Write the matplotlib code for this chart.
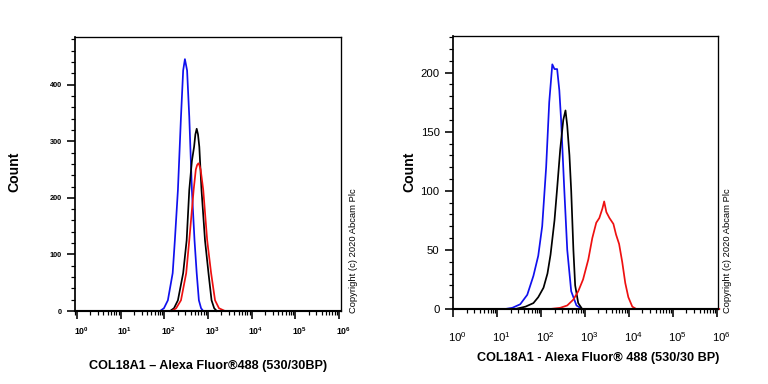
import matplotlib
matplotlib.use("Agg")
import matplotlib.pyplot as plt
import matplotlib.transforms as mtransforms
from matplotlib.ticker import LogLocator, MultipleLocator, FixedLocator, NullFormatter
import numpy as np

plt.rcParams['font.family'] = ['Liberation Sans', 'DejaVu Sans']
plt.rcParams['mathtext.fontset'] = 'custom'
plt.rcParams['mathtext.rm'] = 'Liberation Sans'
plt.rcParams['mathtext.bf'] = 'Liberation Sans:bold'

# ---- left panel: log10 position (decades) and count
left_blue_dec = [1.90, 1.99, 2.08, 2.19, 2.24, 2.31, 2.38, 2.43, 2.47, 2.52, 2.57, 2.63, 2.69, 2.74, 2.79, 2.84, 2.89]
left_blue_cnt = [0, 5, 19, 67, 125, 214, 343, 425, 445, 425, 343, 214, 125, 67, 19, 5, 0]

left_black_dec = [2.13, 2.22, 2.31, 2.43, 2.51, 2.57, 2.63, 2.68, 2.71, 2.74, 2.77, 2.80, 2.85, 2.93, 3.01, 3.08, 3.14, 3.20]
left_black_cnt = [0, 5, 19, 67, 125, 214, 265, 290, 312, 322, 312, 290, 214, 125, 67, 19, 5, 0]

left_red_dec = [2.17, 2.27, 2.38, 2.50, 2.57, 2.67, 2.72, 2.75, 2.78, 2.80, 2.83, 2.89, 2.98, 3.07, 3.16, 3.25, 3.39]
left_red_cnt = [0, 5, 19, 67, 125, 214, 250, 258, 261, 258, 250, 214, 125, 67, 19, 5, 0]

# ---- right panel
right_blue_dec = [1.18, 1.34, 1.52, 1.68, 1.82, 1.93, 2.02, 2.11, 2.18, 2.25, 2.30, 2.36, 2.41, 2.45, 2.52, 2.59, 2.68, 2.80, 2.93]
right_blue_cnt = [0, 1, 4, 12, 28, 45, 70, 120, 175, 207, 203, 203, 185, 160, 103, 50, 15, 3, 0]

right_black_dec = [1.41, 1.64, 1.82, 1.93, 2.05, 2.14, 2.21, 2.30, 2.36, 2.43, 2.50, 2.55, 2.59, 2.64, 2.68, 2.73, 2.77, 2.84, 2.93]
right_black_cnt = [0, 2, 5, 10, 18, 30, 46, 75, 102, 135, 160, 168, 155, 130, 100, 50, 20, 5, 0]

right_red_dec = [0.0, 2.20, 2.43, 2.59, 2.73, 2.84, 2.95, 3.07, 3.16, 3.25, 3.32, 3.39, 3.43, 3.48, 3.55, 3.64, 3.70, 3.77, 3.84, 3.91, 3.98, 4.07, 4.16, 6.05]
right_red_cnt = [0, 0, 1, 3, 8, 15, 25, 42, 60, 73, 77, 85, 91, 82, 77, 72, 63, 55, 40, 22, 10, 2, 0, 0]

decades = [0, 1, 2, 3, 4, 5, 6]
copyright_txt = "Copyright (c) 2020 Abcam Plc"

fig = plt.figure(figsize=(8, 4), dpi=96)
axL = fig.add_axes([0.0977, 0.190, 0.3464, 0.7135])
axR = fig.add_axes([0.5898, 0.1953, 0.3451, 0.711])


def style_axis(ax, bold, lab_size, ylab_size, xpad, ymajor, yminor):
    ax.set_xscale('log')
    ax.xaxis.set_major_locator(FixedLocator([10.0 ** d for d in decades]))
    ax.xaxis.set_minor_locator(LogLocator(base=10, subs=np.arange(2, 10)))
    ax.xaxis.set_minor_formatter(NullFormatter())
    if bold:
        labels = [r'$\mathbf{10^{%d}}$' % d for d in decades]
    else:
        labels = [r'$\mathrm{10^{%d}}$' % d for d in decades]
    ax.set_xticklabels(labels)
    ax.yaxis.set_major_locator(MultipleLocator(ymajor))
    ax.yaxis.set_minor_locator(MultipleLocator(yminor))
    ax.tick_params(which='major', direction='out', length=6, width=1.2)
    ax.tick_params(which='minor', direction='out', length=3, width=0.9)
    ax.tick_params(axis='x', which='major', labelsize=lab_size, pad=xpad)
    ax.tick_params(axis='y', which='major', labelsize=ylab_size, pad=4)
    # labels sit a little right of their ticks in the original
    shift = mtransforms.ScaledTranslation(4 / 96, 0, fig.dpi_scale_trans)
    for lab in ax.get_xticklabels():
        lab.set_transform(lab.get_transform() + shift)
    for lab in ax.get_yticklabels():
        lab.set_fontweight('bold' if bold else 'normal')
    for s in ax.spines.values():
        s.set_linewidth(1.0)
    ax.spines['bottom'].set_linewidth(1.6)
    ax.spines['left'].set_linewidth(1.3)


# left panel
axL.plot(10.0 ** np.array(left_blue_dec), left_blue_cnt, color='#1010ee', lw=1.3, clip_on=False)
axL.plot(10.0 ** np.array(left_black_dec), left_black_cnt, color='black', lw=1.3, clip_on=False)
axL.plot(10.0 ** np.array(left_red_dec), left_red_cnt, color='#ee1010', lw=1.3, clip_on=False)
axL.set_xlim(10 ** -0.046, 10 ** 6.046)
axL.set_ylim(0, 484)
style_axis(axL, True, 6.5, 5.5, 5, 100, 20)

# right panel
axR.plot(10.0 ** np.array(right_blue_dec), right_blue_cnt, color='#1010ee', lw=1.3, clip_on=False)
axR.plot(10.0 ** np.array(right_black_dec), right_black_cnt, color='black', lw=1.3, clip_on=False)
axR.plot(10.0 ** np.array(right_red_dec), right_red_cnt, color='#ee1010', lw=1.3, clip_on=False)
axR.set_xlim(10 ** -0.01, 10 ** 6.02)
axR.set_ylim(0, 231)
style_axis(axR, False, 8.5, 8.5, 10, 50, 10)

# axis titles
fig.text(14 / 768, 1 - 172 / 384, "Count", rotation=90, ha='center', va='center',
         fontsize=10.5, fontweight='bold')
fig.text(409 / 768, 1 - 172 / 384, "Count", rotation=90, ha='center', va='center',
         fontsize=10.5, fontweight='bold')
fig.text(208 / 768, 1 - 366 / 384, "COL18A1 \u2013 Alexa Fluor\u00ae488 (530/30BP)",
         ha='center', va='center', fontsize=9.5, fontweight='bold')
fig.text(598 / 768, 1 - 358 / 384, "COL18A1 - Alexa Fluor\u00ae 488 (530/30 BP)",
         ha='center', va='center', fontsize=9.5, fontweight='bold')

# copyright
fig.text(353 / 768, 1 - 313 / 384, copyright_txt, rotation=90, ha='center', va='bottom', fontsize=7)
fig.text(727 / 768, 1 - 313 / 384, copyright_txt, rotation=90, ha='center', va='bottom', fontsize=7)

fig.savefig("out.png", dpi=96)
